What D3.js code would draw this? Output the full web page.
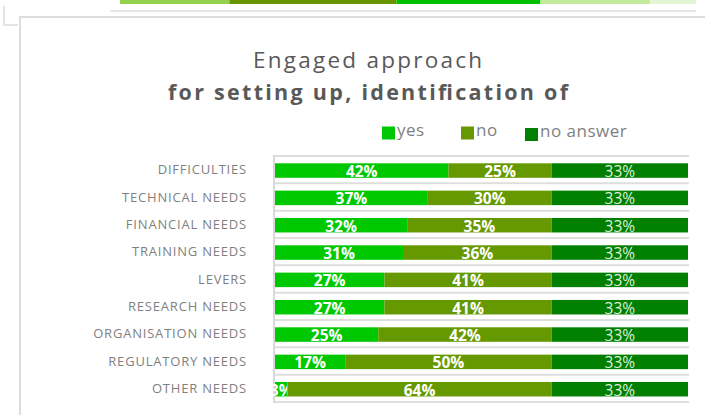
<!DOCTYPE html>
<html>
<head>
<meta charset="utf-8">
<script src="https://cdn.jsdelivr.net/npm/d3@7"></script>
<style>
  body { margin: 0; background: #fff; }
  svg { display: block; font-family: "Open Sans", Lato, sans-serif; }
</style>
</head>
<body>
<div id="chart"></div>
<script>
// categories, top to bottom
var categories = ["DIFFICULTIES", "TECHNICAL NEEDS", "FINANCIAL NEEDS", "TRAINING NEEDS",
  "LEVERS", "RESEARCH NEEDS", "ORGANISATION NEEDS", "REGULATORY NEEDS", "OTHER NEEDS"];
var yesVals = [42, 37, 32, 31, 26.5, 26.5, 25, 17, 3];
var noVals = [25, 30, 35, 36, 40.5, 40.5, 42, 50, 64];
var noAnswerVals = [33, 33, 33, 33, 33, 33, 33, 33, 33];
var seriesNames = ["yes", "no", "no answer"];
var seriesColors = ["#00c800", "#669900", "#007f00"];

// bottom of the chart above, only its last stacked bar shows
var prevBarVals = [19, 29, 25, 19, 8];
var prevBarColors = ["#92d050", "#679400", "#00c000", "#c4eb9c", "#e3f5d3"];

var width = 705, height = 415;
var svg = d3.select("#chart").append("svg")
    .attr("width", width)
    .attr("height", height);

// ---- remnant of previous card
var prevX = d3.scaleLinear().domain([0, 100]).range([120, 696]);
var acc = 0;
svg.selectAll("rect.prev")
  .data(prevBarVals)
  .enter().append("rect")
    .attr("class", "prev")
    .attr("x", function(d) { var s = acc; acc += d; return prevX(s); })
    .attr("y", 0)
    .attr("width", function(d) { return prevX(d) - prevX(0); })
    .attr("height", 4)
    .attr("fill", function(d, i) { return prevBarColors[i]; });
svg.append("line")
    .attr("x1", 110).attr("x2", 696).attr("y1", 11).attr("y2", 11)
    .attr("stroke", "#e6e6ea").attr("stroke-width", 2);

// ---- card frame
svg.append("path")
    .attr("d", "M4,6V25H18")
    .attr("fill", "none").attr("stroke", "#e4e4e4").attr("stroke-width", 2);
svg.append("path")
    .attr("d", "M20,415V17H705")
    .attr("fill", "none").attr("stroke", "#dcdcdc").attr("stroke-width", 2);

// ---- titles
svg.append("text")
    .attr("x", 367.5).attr("y", 68)
    .attr("text-anchor", "middle")
    .attr("font-size", 22.5)
    .attr("fill", "#595959")
    .attr("textLength", 229).attr("lengthAdjust", "spacing")
    .text("Engaged approach");
svg.append("text")
    .attr("x", 368).attr("y", 100)
    .attr("text-anchor", "middle")
    .attr("font-size", 21.5)
    .attr("font-weight", "bold")
    .attr("fill", "#595959")
    .attr("textLength", 400).attr("lengthAdjust", "spacing")
    .text("for setting up, identification of");

// ---- legend
var legendX = [382, 461, 525];
var legend = svg.selectAll("g.legend")
  .data(seriesNames)
  .enter().append("g")
    .attr("class", "legend")
    .attr("transform", function(d, i) { return "translate(" + legendX[i] + "," + (i == 2 ? 128 : 126.5) + ")"; });
legend.append("rect")
    .attr("width", 13).attr("height", 13)
    .attr("fill", function(d, i) { return seriesColors[i]; });
legend.append("text")
    .attr("x", 15).attr("y", 9)
    .attr("font-size", 17)
    .attr("letter-spacing", 0.5)
    .attr("fill", "#7f7f7f")
    .text(function(d) { return d; });

// ---- scales
var x = d3.scaleLinear().domain([0, 100]).range([275, 688]);
var y = d3.scaleBand().domain(categories).range([156, 402]);

// row separators
svg.selectAll("line.grid")
  .data(d3.range(categories.length + 1))
  .enter().append("line")
    .attr("class", "grid")
    .attr("x1", 274).attr("x2", 689)
    .attr("y1", function(i) { return 156 + i * y.step(); })
    .attr("y2", function(i) { return 156 + i * y.step(); })
    .attr("stroke", "#dedede").attr("stroke-width", 2);
svg.append("line")
    .attr("x1", 274).attr("x2", 274).attr("y1", 155).attr("y2", 403)
    .attr("stroke", "#d9d9d9").attr("stroke-width", 2);

// category labels
svg.selectAll("text.cat")
  .data(categories)
  .enter().append("text")
    .attr("class", "cat")
    .attr("x", 247)
    .attr("y", function(d) { return y(d) + y.bandwidth() / 2 + 4.5; })
    .attr("text-anchor", "end")
    .attr("font-size", 13)
    .attr("letter-spacing", 0.8)
    .attr("fill", "#7f7f7f")
    .text(function(d) { return d; });

// stacked bars
var rows = categories.map(function(c, i) {
  return { cat: c, yes: yesVals[i], no: noVals[i], "no answer": noAnswerVals[i] };
});
var stack = d3.stack().keys(seriesNames)(rows);

svg.append("clipPath").attr("id", "clip")
  .append("rect").attr("x", 270).attr("y", 150).attr("width", 430).attr("height", 260);

var layer = svg.selectAll("g.layer")
  .data(stack)
  .enter().append("g")
    .attr("class", "layer")
    .attr("fill", function(d, i) { return seriesColors[i]; });

layer.selectAll("rect")
  .data(function(d) { return d; })
  .enter().append("rect")
    .attr("x", function(d) { return x(d[0]); })
    .attr("y", function(d) { return y(d.data.cat) + 7.3; })
    .attr("width", function(d) { return x(d[1]) - x(d[0]); })
    .attr("height", 14.5);

layer.selectAll("text")
  .data(function(d) { return d.map(function(p) { p.key = d.key; return p; }); })
  .enter().append("text")
    .attr("clip-path", "url(#clip)")
    .attr("x", function(d) { return (x(d[0]) + x(d[1])) / 2; })
    .attr("y", function(d) { return y(d.data.cat) + 21; })
    .attr("text-anchor", "middle")
    .attr("font-size", 15.5)
    .attr("font-weight", function(d) { return d.key == "no answer" ? "normal" : "bold"; })
    .attr("fill", function(d) { return d.key == "no answer" ? "#dcefdc" : "#ffffff"; })
    .text(function(d) { return Math.round(d[1] - d[0]) + "%"; });
</script>
</body>
</html>
